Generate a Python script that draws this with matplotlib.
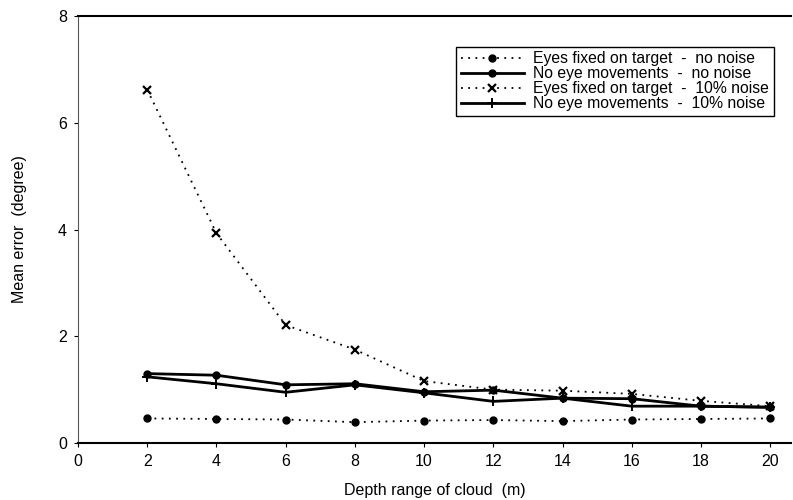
import matplotlib
matplotlib.use("Agg")
import matplotlib.pyplot as plt

# depth range of cloud (m)
depth = [2, 4, 6, 8, 10, 12, 14, 16, 18, 20]

# mean error (degree) per condition
eyes_fixed_no_noise = [0.46, 0.45, 0.44, 0.39, 0.42, 0.43, 0.41, 0.44, 0.45, 0.46]
no_eye_mov_no_noise = [1.30, 1.27, 1.09, 1.11, 0.96, 0.99, 0.84, 0.83, 0.69, 0.67]
eyes_fixed_10_noise = [6.62, 3.93, 2.21, 1.75, 1.16, 1.00, 0.98, 0.92, 0.79, 0.69]
no_eye_mov_10_noise = [1.24, 1.11, 0.95, 1.09, 0.94, 0.78, 0.84, 0.69, 0.69, 0.67]

labels = [
    "Eyes fixed on target  -  no noise",
    "No eye movements  -  no noise",
    "Eyes fixed on target  -  10% noise",
    "No eye movements  -  10% noise",
]
xticks = [0, 2, 4, 6, 8, 10, 12, 14, 16, 18, 20]
yticks = [0, 2, 4, 6, 8]

plt.rcParams["font.family"] = ["Liberation Sans", "DejaVu Sans"]

fig = plt.figure(figsize=(7.93, 5.0), dpi=100)
ax = fig.add_axes([0.0984, 0.114, 0.899, 0.854])

dot = (0, (1, 3))
ax.plot(depth, eyes_fixed_no_noise, color="black", lw=1.3, ls=dot,
        marker="o", ms=5, label=labels[0])
ax.plot(depth, no_eye_mov_no_noise, color="black", lw=2.0, ls="-",
        marker="o", ms=5, label=labels[1])
ax.plot(depth, eyes_fixed_10_noise, color="black", lw=1.3, ls=dot,
        marker="x", ms=5.5, mew=1.6, label=labels[2])
ax.plot(depth, no_eye_mov_10_noise, color="black", lw=2.0, ls="-",
        marker="+", ms=6.5, mew=1.4, label=labels[3])

ax.set_xlim(0, 20.6)
ax.set_ylim(0, 8)
ax.set_xticks(xticks)
ax.set_yticks(yticks)
ax.tick_params(direction="out", length=3, width=0.8, labelsize=11.5, pad=5)

for side in ("top", "bottom"):
    ax.spines[side].set_linewidth(1.5)
ax.spines["left"].set_linewidth(0.8)
ax.spines["left"].set_color("#555555")
ax.spines["right"].set_visible(False)

ax.set_xlabel("Depth range of cloud  (m)", fontsize=11.5, labelpad=10)
ax.set_ylabel("Mean error  (degree)", fontsize=11.5, labelpad=22)

leg = ax.legend(loc="upper right", bbox_to_anchor=(0.976, 0.928),
                fontsize=11.3, handlelength=4.0, handletextpad=0.6,
                labelspacing=0.0, borderpad=0.3, borderaxespad=0,
                fancybox=False, framealpha=1, edgecolor="black")
leg.get_frame().set_linewidth(1.0)

fig.savefig("out.png", dpi=100)
